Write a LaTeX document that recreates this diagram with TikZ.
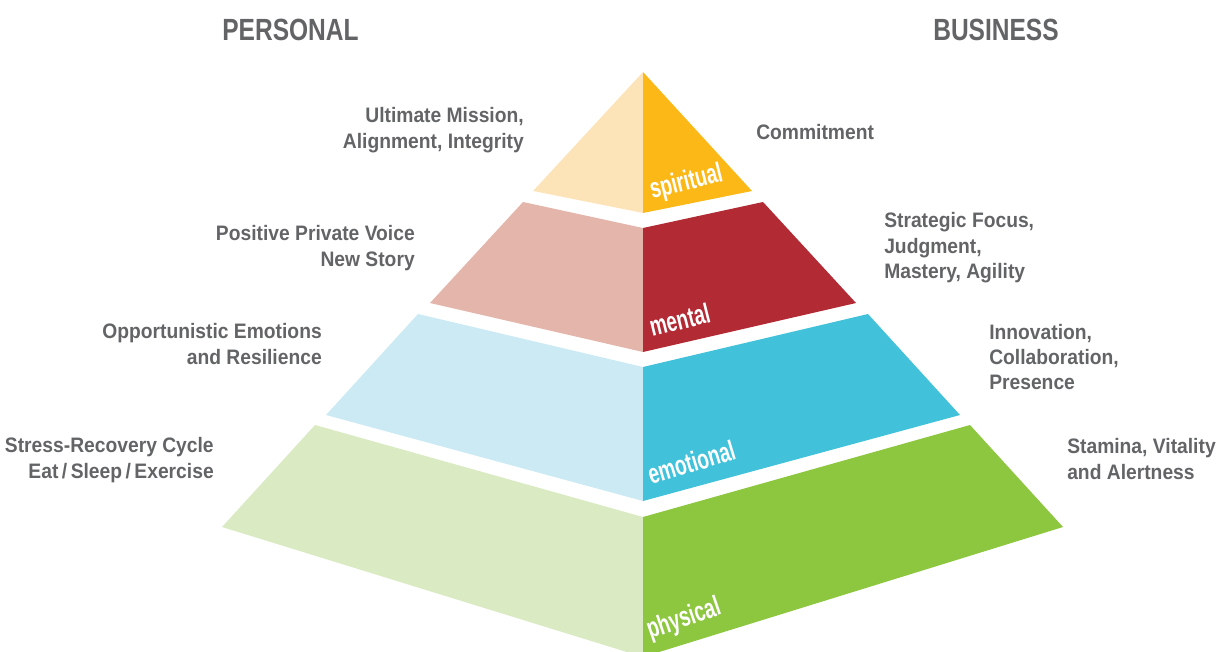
\documentclass[tikz,border=0pt]{standalone}
\usepackage{fontspec}
\setmainfont{Liberation Sans}
\newfontfamily\labelfont[FakeStretch=0.92]{Liberation Sans}
\newfontfamily\headfont[FakeStretch=0.8]{Liberation Sans}
\newfontfamily\layerfont[FakeStretch=0.68]{Liberation Sans}
\definecolor{textgrey}{HTML}{636466}
\definecolor{spiritL}{HTML}{FDE4B8}
\definecolor{spiritR}{HTML}{FBB817}
\definecolor{mentalL}{HTML}{E4B5AA}
\definecolor{mentalR}{HTML}{B22A33}
\definecolor{emoL}{HTML}{CBEAF3}
\definecolor{emoR}{HTML}{41C2DA}
\definecolor{physL}{HTML}{DAEAC3}
\definecolor{physR}{HTML}{8DC63F}
\tikzset{
  heading/.style={inner sep=0pt, text=textgrey, font=\headfont\bfseries\fontsize{23}{27}\selectfont},
  sidetext/.style={inner sep=0pt, text=textgrey, font=\labelfont\bfseries\fontsize{15.7}{19.1}\selectfont},
  lefttext/.style={sidetext, anchor=east, align=right},
  righttext/.style={sidetext, anchor=west, align=left},
  layer/.style={inner sep=0pt, anchor=base west, text=white, font=\layerfont\bfseries\fontsize{21}{24}\selectfont}
}
\begin{document}
\begin{tikzpicture}[x=0.75pt,y=-0.75pt]
  \useasboundingbox (0,0) rectangle (1226,652);
  \clip (0,0) rectangle (1226,652);
  \fill [spiritL] (643,72) -- (533,191) -- (643,213) -- cycle;
  \fill [spiritR] (643,72) -- (752,191) -- (643,213) -- cycle;
  \fill [mentalL] (523,202) -- (643,228) -- (643,352) -- (430,303) -- cycle;
  \fill [mentalR] (763,202) -- (643,228) -- (643,352) -- (856,303) -- cycle;
  \fill [emoL] (418,314) -- (643,367) -- (643,501) -- (326,415) -- cycle;
  \fill [emoR] (868,314) -- (643,367) -- (643,501) -- (960,415) -- cycle;
  \fill [physL] (315,425) -- (643,517) -- (643,657) -- (222,527) -- cycle;
  \fill [physR] (970,425) -- (643,517) -- (643,657) -- (1063,527) -- cycle;
  \node [layer, rotate=14] (spiritual) at (652,199) {spiritual};
  \node [layer, rotate=14] (mental) at (652,337) {mental};
  \node [layer, rotate=17] (emotional) at (651,485) {emotional};
  \node [layer, rotate=19] (physical) at (650,639) {physical};
  \node [heading] (personal) at (290.5,29.5) {PERSONAL};
  \node [heading] (business) at (996,29.5) {BUSINESS};
  \node [lefttext] (mission) at (524,130) {Ultimate Mission,\\Alignment, Integrity};
  \node [righttext] (commit) at (756,132.5) {Commitment};
  \node [lefttext] (voice) at (415,248) {Positive Private Voice\\New Story};
  \node [righttext] (focus) at (884,248) {Strategic Focus,\\Judgment,\\Mastery, Agility};
  \node [lefttext] (resil) at (322,344) {Opportunistic Emotions\\and Resilience};
  \node [righttext] (innov) at (989,357) {Innovation,\\Collaboration,\\Presence};
  \node [lefttext] (stress) at (214,460) {Stress-Recovery Cycle\\Eat\,/\,Sleep\,/\,Exercise};
  \node [righttext] (stamina) at (1067,459) {Stamina, Vitality\\and Alertness};
\end{tikzpicture}
\end{document}
